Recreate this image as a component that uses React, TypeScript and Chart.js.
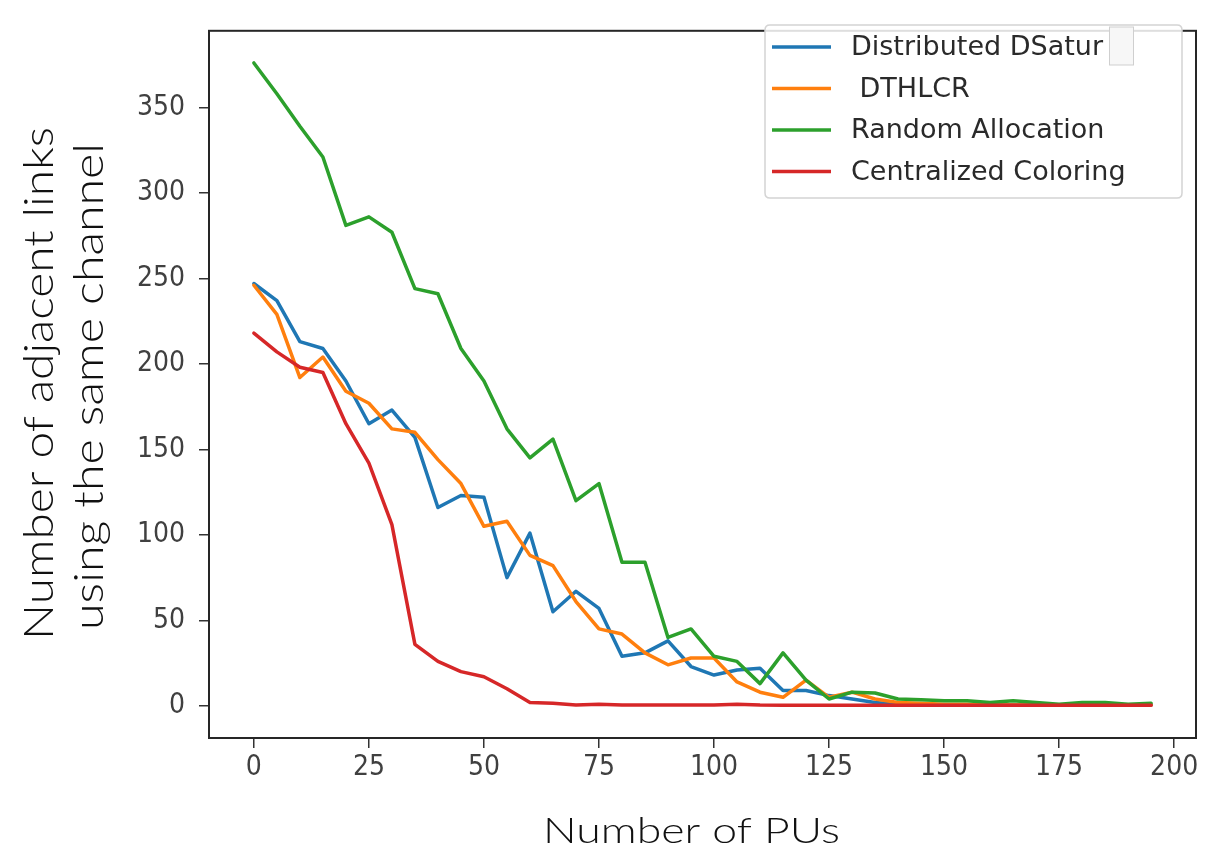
import React, { useEffect, useRef } from "react";
import { Chart, registerables } from "chart.js";

Chart.register(...registerables);

// ---- Data ----
const xValues = [
  0, 5, 10, 15, 20, 25, 30, 35, 40, 45, 50, 55, 60, 65, 70, 75, 80, 85, 90, 95,
  100, 105, 110, 115, 120, 125, 130, 135, 140, 145, 150, 155, 160, 165, 170, 175, 180, 185, 190, 195,
];

const distributedDSatur = [
  247, 237, 213, 209, 190, 165, 173, 157, 116, 123, 122, 75, 101, 55, 67, 57, 29, 31, 38, 23,
  18, 21, 22, 9, 9, 6, 4, 2, 1, 1, 0.5, 0.5, 0.5, 0.5, 0.5, 0.5, 0.5, 0.5, 0.5, 0.5,
];

const dthlcr = [
  246, 229, 192, 204, 184, 177, 162, 160, 144, 130, 105, 108, 88, 82, 61, 45, 42, 31, 24, 28,
  28, 14, 8, 5, 15, 5, 8, 4, 2, 1.5, 1, 1, 0.5, 0.5, 0.5, 0.5, 0.5, 0.5, 0.5, 0.5,
];

const randomAllocation = [
  376, 358, 339, 321, 281, 286, 277, 244, 241, 209, 190, 162, 145, 156, 120, 130, 84, 84, 40, 45,
  29, 26, 13, 31, 15, 4, 8, 7.5, 4, 3.5, 3, 3, 2, 3, 2, 1, 2, 2, 1, 1.5,
];

const centralizedColoring = [
  218, 207, 198, 195, 165, 142, 106, 36, 26, 20, 17, 10, 2, 1.5, 0.5, 1, 0.5, 0.5, 0.5, 0.5,
  0.5, 1, 0.5, 0.3, 0.3, 0.3, 0.3, 0.3, 0.3, 0.3, 0.3, 0.3, 0.3, 0.3, 0.3, 0.3, 0.3, 0.3, 0.3, 0.3,
];

const seriesLabels = ["Distributed DSatur", " DTHLCR", "Random Allocation", "Centralized Coloring"];
const seriesColors = ["#1f77b4", "#ff7f0e", "#2ca02c", "#d62728"];

const xTicks = [0, 25, 50, 75, 100, 125, 150, 175, 200];
const yTicks = [0, 50, 100, 150, 200, 250, 300, 350];

const xTitle = "Number of PUs";
const yTitleLines = ["Number of adjacent links", "using the same channel"];

const TICK_FONT = "'DejaVu Sans Condensed', 'Liberation Sans Narrow', 'DejaVu Sans', sans-serif";
const TITLE_FONT = "Lato, 'Open Sans', sans-serif";

function drawFitted(
  ctx: CanvasRenderingContext2D,
  text: string,
  cx: number,
  baseline: number,
  targetWidth: number,
  font: string,
  rotate: boolean
) {
  ctx.save();
  ctx.font = font;
  ctx.fillStyle = "#111";
  ctx.textAlign = "center";
  ctx.textBaseline = "alphabetic";
  const w = ctx.measureText(text).width || 1;
  if (rotate) {
    ctx.translate(baseline, cx);
    ctx.rotate(-Math.PI / 2);
  } else {
    ctx.translate(cx, baseline);
  }
  ctx.scale(targetWidth / w, 1);
  ctx.fillText(text, 0, 0);
  ctx.restore();
}

const decorPlugin = {
  id: "decor",
  afterDraw(chart: any) {
    const ctx: CanvasRenderingContext2D = chart.ctx;
    const a = chart.chartArea;
    ctx.save();

    // frame (spines)
    ctx.strokeStyle = "#262626";
    ctx.lineWidth = 2;
    ctx.strokeRect(a.left, a.top, a.right - a.left, a.bottom - a.top);

    // legend box
    const lx = 765, ly = 25, lw = 417, lh = 173, r = 5;
    ctx.beginPath();
    ctx.moveTo(lx + r, ly);
    ctx.lineTo(lx + lw - r, ly);
    ctx.quadraticCurveTo(lx + lw, ly, lx + lw, ly + r);
    ctx.lineTo(lx + lw, ly + lh - r);
    ctx.quadraticCurveTo(lx + lw, ly + lh, lx + lw - r, ly + lh);
    ctx.lineTo(lx + r, ly + lh);
    ctx.quadraticCurveTo(lx, ly + lh, lx, ly + lh - r);
    ctx.lineTo(lx, ly + r);
    ctx.quadraticCurveTo(lx, ly, lx + r, ly);
    ctx.closePath();
    ctx.fillStyle = "rgba(255,255,255,0.85)";
    ctx.fill();
    ctx.strokeStyle = "#d4d4d4";
    ctx.lineWidth = 1.5;
    ctx.stroke();

    const rows = [47, 88.5, 130, 171.5];
    ctx.font = "27px 'DejaVu Sans', sans-serif";
    ctx.textAlign = "left";
    ctx.textBaseline = "middle";
    seriesLabels.forEach((lab, i) => {
      ctx.strokeStyle = seriesColors[i];
      ctx.lineWidth = 3.5;
      ctx.beginPath();
      ctx.moveTo(772, rows[i]);
      ctx.lineTo(831, rows[i]);
      ctx.stroke();
      ctx.fillStyle = "#2a2a2a";
      ctx.fillText(lab, 851, rows[i] + 1);
    });

    // small grey box artefact after the first legend label
    ctx.fillStyle = "#f7f7f7";
    ctx.fillRect(1109.5, 27, 24, 38);
    ctx.strokeStyle = "#cfcfcf";
    ctx.lineWidth = 1;
    ctx.strokeRect(1109.5, 27, 24, 38);

    // axis titles
    drawFitted(ctx, xTitle, 691.5, 843, 297, `300 35px ${TITLE_FONT}`, false);
    drawFitted(ctx, yTitleLines[0], 383.5, 53, 513, `300 42px ${TITLE_FONT}`, true);
    drawFitted(ctx, yTitleLines[1], 386.5, 103, 487, `300 42px ${TITLE_FONT}`, true);

    ctx.restore();
  },
};

export default function App() {
  const canvasRef = useRef<HTMLCanvasElement | null>(null);

  useEffect(() => {
    if (!canvasRef.current) return;
    const series = [distributedDSatur, dthlcr, randomAllocation, centralizedColoring];
    const chart = new Chart(canvasRef.current, {
      type: "line",
      data: {
        datasets: series.map((arr, i) => ({
          label: seriesLabels[i],
          data: xValues.map((x, j) => ({ x, y: arr[j] })),
          borderColor: seriesColors[i],
          backgroundColor: seriesColors[i],
          borderWidth: 3.5,
          pointRadius: 0,
          tension: 0,
          fill: false,
          order: 3 - i,
          borderJoinStyle: "round" as const,
          borderCapStyle: "round" as const,
        })),
      },
      options: {
        responsive: false,
        animation: false,
        devicePixelRatio: 1,
        layout: { padding: { left: 0, top: 10, right: 24, bottom: 0 } },
        plugins: {
          legend: { display: false },
          tooltip: { enabled: false },
          title: { display: false },
        },
        scales: {
          x: {
            type: "linear",
            min: -9.75,
            max: 204.75,
            afterBuildTicks: (scale: any) => {
              scale.ticks = xTicks.map((v) => ({ value: v }));
            },
            afterFit: (scale: any) => {
              scale.height = 112;
            },
            grid: {
              drawOnChartArea: false,
              drawTicks: true,
              tickLength: 10,
              color: "#333",
              lineWidth: 1.5,
            },
            border: { display: false },
            ticks: {
              autoSkip: false,
              maxRotation: 0,
              padding: 3,
              color: "#404040",
              font: { family: TICK_FONT, size: 28 },
              callback: (v: any) => String(v),
            },
          },
          y: {
            type: "linear",
            min: -18.8,
            max: 394.8,
            afterBuildTicks: (scale: any) => {
              scale.ticks = yTicks.map((v) => ({ value: v }));
            },
            afterFit: (scale: any) => {
              scale.width = 209;
            },
            grid: {
              drawOnChartArea: false,
              drawTicks: true,
              tickLength: 10,
              color: "#333",
              lineWidth: 1.5,
            },
            border: { display: false },
            ticks: {
              autoSkip: false,
              padding: 14,
              color: "#404040",
              font: { family: TICK_FONT, size: 28 },
              callback: (v: any) => String(v),
            },
          },
        },
      },
      plugins: [decorPlugin],
    });
    return () => chart.destroy();
  }, []);

  return (
    <div style={{ position: "absolute", left: 0, top: 0, width: 1220, height: 850, background: "#fff" }}>
      <canvas ref={canvasRef} width={1220} height={850} style={{ display: "block" }} />
    </div>
  );
}
